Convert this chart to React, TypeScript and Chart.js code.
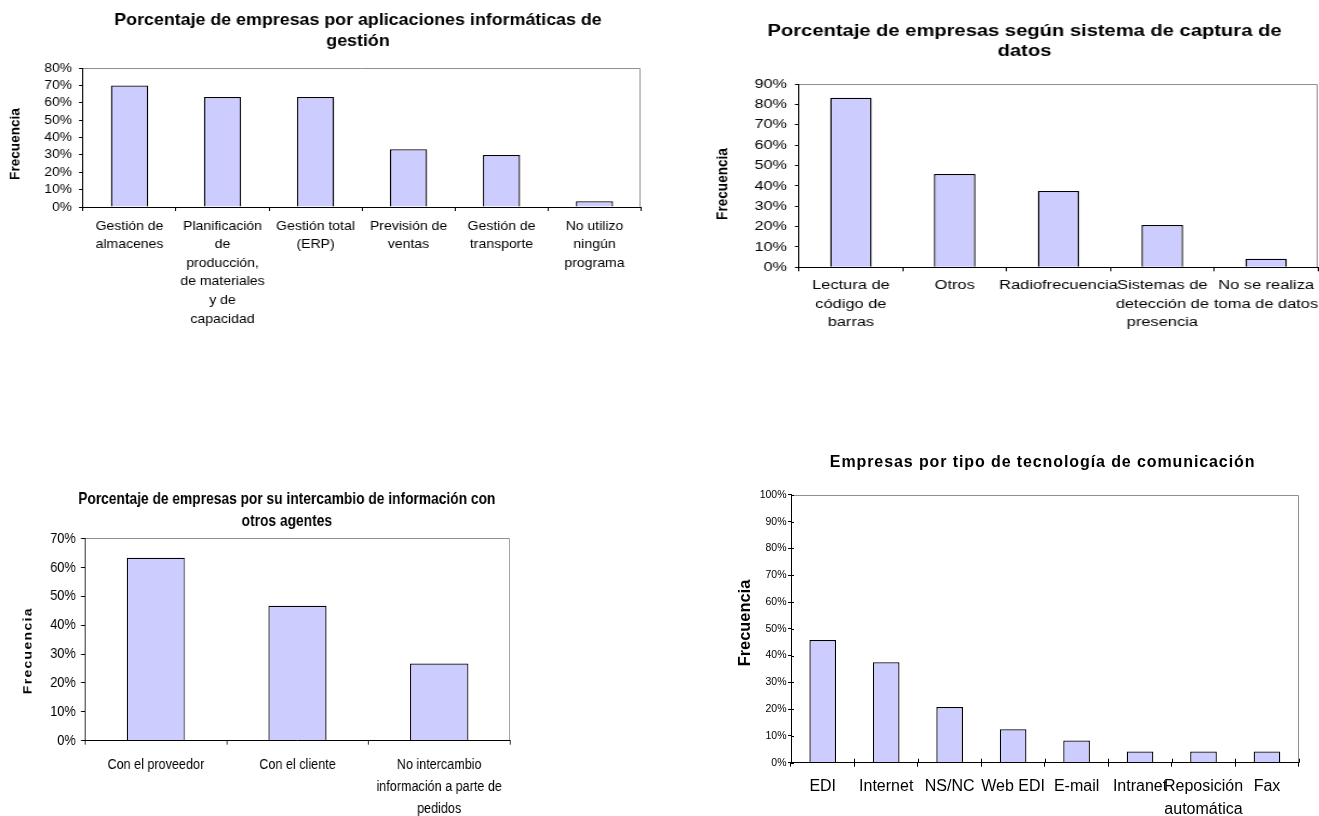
import React, { useEffect, useRef } from 'react';
import { Chart, registerables } from 'chart.js';

Chart.register(...registerables);

const SANS = "'Liberation Sans', Arial, Helvetica, sans-serif";

// ---------- Chart 1: aplicaciones informáticas de gestión
const appTitle = ['Porcentaje de empresas por aplicaciones informáticas de', 'gestión'];
const appCategories = [
  ['Gestión de', 'almacenes'],
  ['Planificación', 'de', 'producción,', 'de materiales', 'y de', 'capacidad'],
  ['Gestión total', '(ERP)'],
  ['Previsión de', 'ventas'],
  ['Gestión de', 'transporte'],
  ['No utilizo', 'ningún', 'programa'],
];
const appValues = [70, 63.3, 63.3, 33.3, 30, 3.3];
const appAxisMax = 80;

// ---------- Chart 2: sistema de captura de datos
const captureTitle = ['Porcentaje de empresas según sistema de captura de', 'datos'];
const captureCategories = [
  ['Lectura de', 'código de', 'barras'],
  ['Otros'],
  ['Radiofrecuencia'],
  ['Sistemas de', 'detección de', 'presencia'],
  ['No se realiza', 'toma de datos'],
];
const captureValues = [83.3, 45.8, 37.5, 20.8, 4.2];
const captureAxisMax = 90;

// ---------- Chart 3: intercambio de información
const exchangeTitle = ['Porcentaje de empresas por su intercambio de información con', 'otros agentes'];
const exchangeCategories = [
  ['Con el proveedor'],
  ['Con el cliente'],
  ['No intercambio', 'información a parte de', 'pedidos'],
];
const exchangeValues = [63.3, 46.7, 26.7];
const exchangeAxisMax = 70;

// ---------- Chart 4: tecnología de comunicación
const commTitle = ['Empresas por tipo de tecnología de comunicación'];
const commCategories = [
  ['EDI'],
  ['Internet'],
  ['NS/NC'],
  ['Web EDI'],
  ['E-mail'],
  ['Intranet'],
  ['Reposición', 'automática'],
  ['Fax'],
];
const commValues = [45.8, 37.5, 20.8, 12.5, 8.3, 4.2, 4.2, 4.2];
const commAxisMax = 100;

const axisStep = 10;
const yAxisTitle = 'Frecuencia';

type TextItem = {
  lines: string[];
  x: number;
  y: number;
  font: string;
  lineHeight: number;
  spacing: number;
  rotate?: number;
};

function textPlugin(items: TextItem[]) {
  return {
    id: 'freeText',
    afterDraw(chart: any) {
      const ctx = chart.ctx as CanvasRenderingContext2D;
      for (const it of items) {
        ctx.save();
        ctx.font = it.font;
        ctx.fillStyle = '#000';
        ctx.textAlign = 'center';
        ctx.textBaseline = 'middle';
        (ctx as any).letterSpacing = `${it.spacing}px`;
        ctx.translate(it.x, it.y);
        if (it.rotate) ctx.rotate(it.rotate);
        it.lines.forEach((line, i) => ctx.fillText(line, 0, i * it.lineHeight));
        ctx.restore();
      }
    },
  };
}

const framePlugin = {
  id: 'plotFrame',
  afterDatasetsDraw(chart: any) {
    const { ctx, chartArea: a } = chart;
    ctx.save();
    ctx.strokeStyle = '#8f8f8f';
    ctx.lineWidth = 1;
    const t = Math.round(a.top) + 0.5;
    const r = Math.round(a.right) - 0.5;
    ctx.beginPath();
    ctx.moveTo(a.left, t);
    ctx.lineTo(r, t);
    ctx.lineTo(r, a.bottom);
    ctx.stroke();
    ctx.restore();
  },
};

const innerTicksPlugin = {
  id: 'innerTicks',
  afterDraw(chart: any) {
    const { ctx } = chart;
    const xs = chart.scales.x;
    const ys = chart.scales.y;
    ctx.save();
    ctx.strokeStyle = '#000';
    ctx.lineWidth = 1;
    ctx.beginPath();
    ys.ticks.forEach((t: any) => {
      const py = Math.round(ys.getPixelForValue(t.value)) + 0.5;
      ctx.moveTo(ys.right, py);
      ctx.lineTo(ys.right + 3, py);
    });
    const n = xs.ticks.length;
    const w = xs.width / n;
    for (let i = 0; i <= n; i++) {
      const px = Math.round(xs.left + i * w) + 0.5;
      ctx.moveTo(px, xs.top);
      ctx.lineTo(px, xs.top - 4);
    }
    ctx.stroke();
    ctx.restore();
  },
};

// Layout specs are given in page pixels; `stretch` is the horizontal
// scaling of the finished picture (the source images were resized unevenly).
type Spec = {
  key: string;
  left: number;
  top: number;
  width: number;
  height: number;
  stretch: number;
  pad: { left: number; right: number; top: number; bottom: number };
  yWidth: number;
  xHeight: number;
  barPct: number;
  yFont: any;
  yTickLen: number;
  yPad: number;
  xFont: any;
  xPad: number;
  cross: boolean;
  labels: string[][];
  values: number[];
  yMax: number;
  texts: TextItem[];
};

const specs: Spec[] = [
  {
    key: 'app',
    left: 0, top: 0, width: 660, height: 345, stretch: 1.08,
    pad: { left: 0, right: 19, top: 68, bottom: 0 },
    yWidth: 83, xHeight: 138, barPct: 0.4,
    yFont: { family: SANS, size: 12.8, lineHeight: 1 }, yTickLen: 4, yPad: 7,
    xFont: { family: SANS, size: 13, lineHeight: 1.43 }, xPad: 5.7,
    cross: false,
    labels: appCategories, values: appValues, yMax: appAxisMax,
    texts: [
      { lines: appTitle, x: 358, y: 20, font: `bold 16.5px ${SANS}`, lineHeight: 21.7, spacing: 0 },
      { lines: [yAxisTitle], x: 15, y: 144, font: `bold 13.6px ${SANS}`, lineHeight: 16, spacing: 0, rotate: -Math.PI / 2 },
    ],
  },
  {
    key: 'capture',
    left: 660, top: 0, width: 659, height: 345, stretch: 1.2,
    pad: { left: 0, right: 1, top: 84, bottom: 0 },
    yWidth: 139, xHeight: 77.7, barPct: 0.4,
    yFont: { family: SANS, size: 13.5, lineHeight: 1 }, yTickLen: 4, yPad: 8,
    xFont: { family: SANS, size: 13.7, lineHeight: 1.336 }, xPad: 5.2,
    cross: false,
    labels: captureCategories, values: captureValues, yMax: captureAxisMax,
    texts: [
      { lines: captureTitle, x: 364.5, y: 31, font: `bold 16.8px ${SANS}`, lineHeight: 20.7, spacing: 0 },
      { lines: [yAxisTitle], x: 62.6, y: 184, font: `bold 13.6px ${SANS}`, lineHeight: 16, spacing: 0, rotate: -Math.PI / 2 },
    ],
  },
  {
    key: 'exchange',
    left: 0, top: 400, width: 660, height: 416, stretch: 0.83,
    pad: { left: 0, right: 150, top: 138.4, bottom: 0 },
    yWidth: 85, xHeight: 75.3, barPct: 0.41,
    yFont: { family: SANS, size: 15.4, lineHeight: 1 }, yTickLen: 4, yPad: 5.3,
    xFont: { family: SANS, size: 15.2, lineHeight: 1.43 }, xPad: 9.5,
    cross: false,
    labels: exchangeCategories, values: exchangeValues, yMax: exchangeAxisMax,
    texts: [
      { lines: exchangeTitle, x: 286.8, y: 99.3, font: `bold 16.6px ${SANS}`, lineHeight: 22.3, spacing: 0 },
      { lines: [yAxisTitle], x: 28.5, y: 250.7, font: `bold 14px ${SANS}`, lineHeight: 16, spacing: 1.3, rotate: -Math.PI / 2 },
    ],
  },
  {
    key: 'comm',
    left: 660, top: 400, width: 659, height: 416, stretch: 1,
    pad: { left: 0, right: 20.3, top: 94.9, bottom: 0 },
    yWidth: 131, xHeight: 53.3, barPct: 0.42,
    yFont: { family: SANS, size: 10.5, lineHeight: 1 }, yTickLen: 3, yPad: 1.5,
    xFont: { family: SANS, size: 16, lineHeight: 1.42 }, xPad: 8.6,
    cross: true,
    labels: commCategories, values: commValues, yMax: commAxisMax,
    texts: [
      { lines: commTitle, x: 382.6, y: 62.7, font: `bold 16px ${SANS}`, lineHeight: 20, spacing: 0.9 },
      { lines: [yAxisTitle], x: 85, y: 223, font: `bold 16.4px ${SANS}`, lineHeight: 19, spacing: 0, rotate: -Math.PI / 2 },
    ],
  },
];

function internalWidth(spec: Spec) {
  return Math.round(spec.width / spec.stretch);
}

function buildConfig(spec: Spec): any {
  const k = internalWidth(spec) / spec.width; // page px -> canvas px (x only)
  const texts = spec.texts.map((t) => ({ ...t, x: t.x * k }));
  return {
    type: 'bar',
    data: {
      labels: spec.labels,
      datasets: [
        {
          data: spec.values,
          backgroundColor: '#CCCCFF',
          borderColor: '#000000',
          borderWidth: 1.3,
          categoryPercentage: 1,
          barPercentage: spec.barPct,
        },
      ],
    },
    options: {
      animation: false,
      responsive: false,
      maintainAspectRatio: false,
      devicePixelRatio: 1,
      layout: {
        padding: {
          left: spec.pad.left * k,
          right: spec.pad.right * k,
          top: spec.pad.top,
          bottom: spec.pad.bottom,
        },
      },
      plugins: {
        legend: { display: false },
        tooltip: { enabled: false },
        title: { display: false },
      },
      scales: {
        x: {
          type: 'category',
          offset: true,
          grid: {
            display: true,
            offset: true,
            drawOnChartArea: false,
            drawTicks: true,
            tickLength: 4,
            color: '#000',
            lineWidth: 1,
          },
          border: { display: true, color: '#000', width: 1, z: 1 },
          ticks: {
            color: '#000',
            font: spec.xFont,
            padding: spec.xPad,
            autoSkip: false,
            maxRotation: 0,
            minRotation: 0,
          },
          afterFit: (s: any) => {
            s.height = spec.xHeight;
            s.paddingLeft = 0;
            s.paddingRight = 0;
          },
        },
        y: {
          type: 'linear',
          min: 0,
          max: spec.yMax,
          grid: {
            display: true,
            drawOnChartArea: false,
            drawTicks: true,
            tickLength: spec.yTickLen * k,
            color: '#000',
            lineWidth: 1,
          },
          border: { display: true, color: '#000', width: 1, z: 1 },
          ticks: {
            stepSize: axisStep,
            autoSkip: false,
            color: '#000',
            font: spec.yFont,
            padding: spec.yPad * k,
            callback: (v: any) => `${v}%`,
          },
          afterFit: (s: any) => {
            s.width = spec.yWidth * k;
            s.paddingTop = 0;
            s.paddingBottom = 0;
          },
        },
      },
    },
    plugins: [framePlugin, textPlugin(texts), ...(spec.cross ? [innerTicksPlugin] : [])],
  };
}

export default function App() {
  const r0 = useRef<HTMLCanvasElement>(null);
  const r1 = useRef<HTMLCanvasElement>(null);
  const r2 = useRef<HTMLCanvasElement>(null);
  const r3 = useRef<HTMLCanvasElement>(null);
  const refs = [r0, r1, r2, r3];

  useEffect(() => {
    const charts = specs.map((spec, i) => new Chart(refs[i].current as HTMLCanvasElement, buildConfig(spec)));
    return () => {
      charts.forEach((c) => c.destroy());
    };
  }, []);

  return (
    <div style={{ position: 'absolute', left: 0, top: 0, width: 1319, height: 816, background: '#ffffff', overflow: 'hidden' }}>
      {specs.map((s, i) => (
        <canvas
          key={s.key}
          ref={refs[i]}
          width={internalWidth(s)}
          height={s.height}
          style={{ position: 'absolute', left: s.left, top: s.top, width: s.width, height: s.height }}
        />
      ))}
    </div>
  );
}
